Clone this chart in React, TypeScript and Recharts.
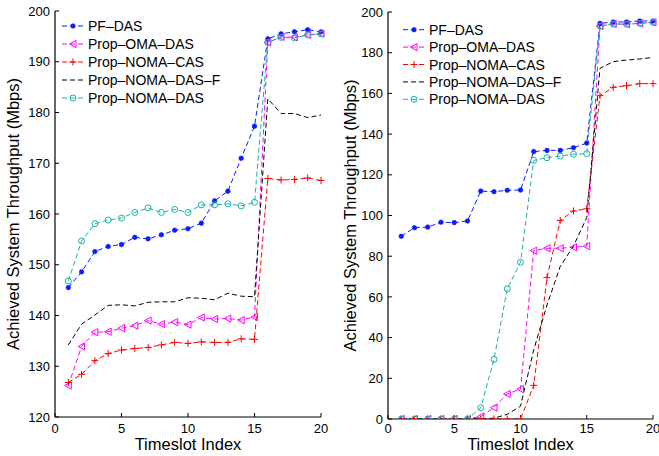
import React from "react";
import { LineChart, Line, XAxis, YAxis, Legend, Label } from "recharts";

const timeslots = [1, 2, 3, 4, 5, 6, 7, 8, 9, 10, 11, 12, 13, 14, 15, 16, 17, 18, 19, 20];
const xTicks = [0, 5, 10, 15, 20];
const leftYTicks = [120, 130, 140, 150, 160, 170, 180, 190, 200];
const rightYTicks = [0, 20, 40, 60, 80, 100, 120, 140, 160, 180, 200];

const seriesNames = ["PF–DAS", "Prop–OMA–DAS", "Prop–NOMA–CAS", "Prop–NOMA–DAS–F", "Prop–NOMA–DAS"];

// Left panel
const pfLeft = [145.5, 148.6, 152.6, 153.6, 154.0, 155.4, 155.1, 155.9, 156.8, 157.1, 158.2, 162.6, 164.5, 171.0, 177.3, 194.5, 195.5, 195.9, 196.3, 195.9];
const omaLeft = [126.2, 133.9, 136.7, 136.8, 137.5, 138.0, 139.0, 138.3, 138.7, 138.2, 139.6, 139.3, 139.4, 139.1, 139.7, 193.8, 194.9, 194.8, 195.3, 195.5];
const casLeft = [126.8, 128.4, 131.1, 132.5, 133.2, 133.5, 133.7, 134.2, 134.7, 134.5, 134.8, 134.7, 134.7, 135.4, 135.3, 167.0, 166.7, 166.8, 167.1, 166.6];
const dasFLeft = [134.2, 138.3, 140.1, 142.0, 142.1, 141.9, 142.6, 142.7, 142.7, 143.5, 143.4, 143.1, 144.4, 143.8, 143.7, 182.7, 179.8, 179.8, 179.0, 179.5];
const nomaLeft = [146.8, 154.7, 158.1, 158.8, 159.2, 160.3, 161.2, 160.3, 160.9, 160.3, 161.8, 161.8, 162.0, 161.6, 162.3, 193.8, 194.8, 194.7, 195.3, 195.5];

// Right panel
const pfRight = [89.8, 94.0, 94.3, 96.7, 96.5, 97.3, 112.0, 111.7, 112.4, 112.5, 131.4, 132.0, 132.0, 133.3, 135.6, 194.4, 195.1, 195.1, 195.6, 195.6];
const omaRight = [0, 0, 0, 0, 0, 0, 1.2, 5.6, 12.3, 14.7, 82.7, 83.9, 83.9, 84.4, 84.9, 193.1, 194.1, 194.0, 194.4, 194.9];
const casRight = [0, 0, 0, 0, 0, 0, 0, 0, 0, 0, 16.5, 69.5, 97.6, 102.2, 103.3, 158.9, 163.0, 163.8, 164.8, 164.8];
const dasFRight = [0, 0, 0, 0, 0, 0, 0, 0.4, 2.3, 6.3, 34.0, 56.0, 75.0, 85.0, 99.0, 172.3, 175.6, 176.4, 176.9, 177.7];
const nomaRight = [0, 0, 0, 0, 0, 0, 5.5, 29.3, 63.9, 77.0, 127.1, 128.4, 129.2, 130.1, 130.4, 193.1, 194.1, 194.0, 194.4, 194.9];

const FONT = "'Liberation Sans', Arial, Helvetica, sans-serif";
const COLORS = ["#0a1cff", "#ff00ff", "#ff0000", "#000000", "#14b4a8"];
const KEYS = ["pf", "oma", "cas", "dasF", "noma"];
const MARKERS = ["dot", "tri", "plus", "none", "circle"];

const buildRows = (a: number[], b: number[], c: number[], d: number[], e: number[]) =>
  timeslots.map((x, i) => ({ x, pf: a[i], oma: b[i], cas: c[i], dasF: d[i], noma: e[i] }));

const leftData = buildRows(pfLeft, omaLeft, casLeft, dasFLeft, nomaLeft);
const rightData = buildRows(pfRight, omaRight, casRight, dasFRight, nomaRight);

function drawMarker(kind: string, color: string, cx: number, cy: number, key?: any) {
  if (kind === "dot") return <circle key={key} cx={cx} cy={cy} r={2.3} fill={color} stroke={color} strokeWidth={0.6} />;
  if (kind === "tri")
    return (
      <polygon
        key={key}
        points={`${cx - 3.6},${cy} ${cx + 3},${cy - 3.6} ${cx + 3},${cy + 3.6}`}
        fill="none"
        stroke={color}
        strokeWidth={1}
      />
    );
  if (kind === "plus")
    return (
      <g key={key}>
        <line x1={cx - 3.5} y1={cy} x2={cx + 3.5} y2={cy} stroke={color} strokeWidth={1} />
        <line x1={cx} y1={cy - 3.5} x2={cx} y2={cy + 3.5} stroke={color} strokeWidth={1} />
      </g>
    );
  if (kind === "circle") return <circle key={key} cx={cx} cy={cy} r={3} fill="none" stroke={color} strokeWidth={1} />;
  return <g key={key} />;
}

const makeDot = (kind: string, color: string) => (props: any) => {
  const { cx, cy, index } = props;
  if (cx == null || cy == null) return <g key={`d-${index}`} />;
  return drawMarker(kind, color, cx, cy, `d-${index}`);
};

const LegendBox = ({ rowH }: { rowH: number }) => (
  <svg width={200} height={rowH * 5 + 4} style={{ overflow: "visible" }}>
    {seriesNames.map((name, i) => {
      const y = rowH / 2 + i * rowH;
      return (
        <g key={name}>
          <line x1={0} y1={y} x2={22} y2={y} stroke={COLORS[i]} strokeWidth={1} strokeDasharray="5 3" />
          {drawMarker(MARKERS[i], COLORS[i], 11, y)}
          <text x={26} y={y + 5} fontSize={14} fontFamily={FONT} fill="#000">
            {name}
          </text>
        </g>
      );
    })}
  </svg>
);

type PanelProps = {
  data: any[];
  yDomain: [number, number];
  yTicks: number[];
  width: number;
  margin: { top: number; right: number; bottom: number; left: number };
  xAxisHeight: number;
  xTickMargin: number;
  yLabelDx: number;
  legendPos: { left: number; top: number };
  rowH: number;
};

const AXIS_TICK = { fontSize: 13, fill: "#000", fontFamily: FONT };

function Panel({ data, yDomain, yTicks, width, margin, xAxisHeight, xTickMargin, yLabelDx, legendPos, rowH }: PanelProps) {
  return (
    <LineChart width={width} height={456} data={data} margin={margin}>
      <XAxis
        dataKey="x"
        type="number"
        domain={[0, 20]}
        ticks={xTicks}
        height={xAxisHeight}
        tickSize={-4}
        tickMargin={xTickMargin}
        tick={AXIS_TICK}
        axisLine={{ stroke: "#000", strokeWidth: 1.2 }}
        tickLine={{ stroke: "#000" }}
        interval={0}
      >
        <Label value="Timeslot Index" position="insideBottom" offset={6} style={{ fontSize: 16.5, fill: "#000", fontFamily: FONT }} />
      </XAxis>
      <XAxis
        xAxisId="top"
        orientation="top"
        type="number"
        domain={[0, 20]}
        ticks={xTicks}
        height={0}
        tickSize={-4}
        tick={false}
        axisLine={{ stroke: "#000", strokeWidth: 1.2 }}
        tickLine={{ stroke: "#000" }}
        interval={0}
      />
      <YAxis
        type="number"
        domain={yDomain}
        ticks={yTicks}
        width={55}
        tickSize={-4}
        tickMargin={9}
        tick={AXIS_TICK}
        axisLine={{ stroke: "#000", strokeWidth: 1.2 }}
        tickLine={{ stroke: "#000" }}
        interval={0}
        allowDataOverflow
      >
        <Label
          value="Achieved System Throughput (Mbps)"
          position="center"
          angle={-90}
          dx={yLabelDx}
          style={{ fontSize: 16.5, fill: "#000", fontFamily: FONT, textAnchor: "middle" }}
        />
      </YAxis>
      <YAxis
        yAxisId="right"
        orientation="right"
        type="number"
        domain={yDomain}
        ticks={yTicks}
        width={0}
        tickSize={-4}
        tick={false}
        axisLine={{ stroke: "#000", strokeWidth: 1.2 }}
        tickLine={{ stroke: "#000" }}
        interval={0}
      />
      <Legend
        layout="vertical"
        align="center"
        verticalAlign="middle"
        wrapperStyle={{ position: "absolute", left: legendPos.left, top: legendPos.top, width: 200, height: rowH * 5 + 4 }}
        content={() => <LegendBox rowH={rowH} />}
      />
      {KEYS.map((k, i) => (
        <Line
          key={k}
          name={seriesNames[i]}
          dataKey={k}
          type="linear"
          stroke={COLORS[i]}
          strokeWidth={1}
          strokeDasharray="5 3"
          dot={MARKERS[i] === "none" ? false : makeDot(MARKERS[i], COLORS[i])}
          activeDot={false}
          isAnimationActive={false}
        />
      ))}
    </LineChart>
  );
}

export default function App() {
  return (
    <div style={{ position: "absolute", left: 0, top: 0, width: 659, height: 456, background: "#fff", fontFamily: FONT }}>
      <div style={{ position: "absolute", left: 0, top: 0 }}>
        <Panel
          data={leftData}
          yDomain={[120, 200]}
          yTicks={leftYTicks}
          width={330}
          margin={{ top: 11, right: 9, bottom: 0, left: 0 }}
          xAxisHeight={39}
          xTickMargin={11}
          yLabelDx={-14.5}
          legendPos={{ left: 62, top: 17 }}
          rowH={18}
        />
      </div>
      <div style={{ position: "absolute", left: 333, top: 0 }}>
        <Panel
          data={rightData}
          yDomain={[0, 200]}
          yTicks={rightYTicks}
          width={326}
          margin={{ top: 12, right: 6, bottom: 0, left: 0 }}
          xAxisHeight={37}
          xTickMargin={9}
          yLabelDx={-10.5}
          legendPos={{ left: 70, top: 21 }}
          rowH={17.4}
        />
      </div>
    </div>
  );
}
